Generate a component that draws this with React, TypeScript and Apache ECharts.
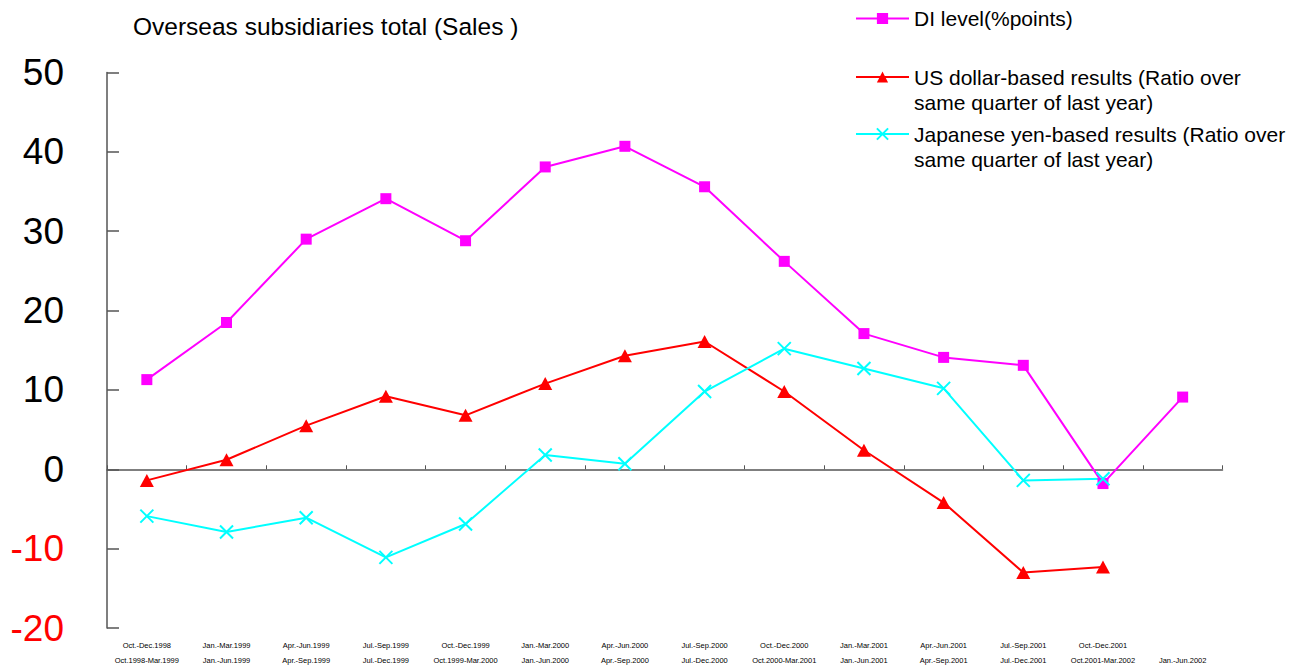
import React, { useEffect, useRef } from 'react';
import * as echarts from 'echarts';

const labelsTop = [
  'Oct.-Dec.1998', 'Jan.-Mar.1999', 'Apr.-Jun.1999', 'Jul.-Sep.1999', 'Oct.-Dec.1999',
  'Jan.-Mar.2000', 'Apr.-Jun.2000', 'Jul.-Sep.2000', 'Oct.-Dec.2000', 'Jan.-Mar.2001',
  'Apr.-Jun.2001', 'Jul.-Sep.2001', 'Oct.-Dec.2001', '',
];
const labelsBottom = [
  'Oct.1998-Mar.1999', 'Jan.-Jun.1999', 'Apr.-Sep.1999', 'Jul.-Dec.1999', 'Oct.1999-Mar.2000',
  'Jan.-Jun.2000', 'Apr.-Sep.2000', 'Jul.-Dec.2000', 'Oct.2000-Mar.2001', 'Jan.-Jun.2001',
  'Apr.-Sep.2001', 'Jul.-Dec.2001', 'Oct.2001-Mar.2002', 'Jan.-Jun.2002',
];

const seriesNames = [
  'DI level(%points)',
  'US dollar-based results (Ratio over\nsame quarter of last year)',
  'Japanese yen-based results (Ratio over\nsame quarter of last year)',
];

const diLevel = [11.3, 18.5, 29.0, 34.1, 28.8, 38.1, 40.7, 35.6, 26.2, 17.1, 14.1, 13.1, -1.8, 9.1];
const usDollar = [-1.4, 1.2, 5.5, 9.2, 6.8, 10.8, 14.3, 16.1, 9.8, 2.4, -4.2, -13.0, -12.3, null];
const japaneseYen = [-5.9, -7.9, -6.1, -11.1, -6.9, 1.8, 0.7, 9.8, 15.2, 12.7, 10.2, -1.4, -1.2, null];

const yTicks = { min: -20, max: 50, interval: 10 };
const titleText = 'Overseas subsidiaries total (Sales )';

const FONT = '"Liberation Sans", Arial, sans-serif';

export default function App() {
  const ref = useRef<HTMLDivElement>(null);

  useEffect(() => {
    document.body.style.margin = '0';
    if (!ref.current) return;
    const chart = echarts.init(ref.current, null, { renderer: 'svg' });

    const legendBase = {
      orient: 'vertical',
      itemWidth: 53,
      itemHeight: 14,
      padding: 0,
      selectedMode: false,
      textStyle: { fontSize: 21, color: '#000', fontFamily: FONT, lineHeight: 25 },
    };

    chart.setOption({
      animation: false,
      backgroundColor: '#fff',
      title: {
        text: titleText,
        left: 133,
        top: 14,
        padding: 0,
        textStyle: { fontSize: 24.5, fontWeight: 'normal', color: '#000', fontFamily: FONT },
      },
      legend: [
        { ...legendBase, data: [seriesNames[0]], left: 855, top: 6 },
        { ...legendBase, data: [seriesNames[1]], left: 855, top: 39.5, formatter: '\n{name}' },
        { ...legendBase, data: [seriesNames[2]], left: 855, top: 96.5, formatter: '\n{name}' },
      ],
      grid: {
        left: 107,
        right: 74.5,
        top: 72.5,
        bottom: 39,
        containLabel: false,
        outerBoundsMode: 'none',
      },
      xAxis: [
        {
          type: 'category',
          data: labelsBottom,
          boundaryGap: true,
          position: 'bottom',
          axisLine: { onZero: true, lineStyle: { color: '#555', width: 1.5 } },
          axisTick: { show: true, inside: true, length: 4, interval: 0, lineStyle: { color: '#555' } },
          axisLabel: { show: false },
          splitLine: { show: false },
        },
        {
          type: 'category',
          data: labelsBottom,
          boundaryGap: true,
          position: 'bottom',
          axisLine: { show: false, onZero: false },
          axisTick: { show: false },
          splitLine: { show: false },
          axisLabel: {
            show: true,
            interval: 0,
            margin: 9.5,
            fontSize: 7.5,
            lineHeight: 15,
            color: '#000',
            fontFamily: FONT,
            formatter: (_v: string, i: number) => `${labelsTop[i]}\n${labelsBottom[i]}`,
          },
        },
      ],
      yAxis: {
        type: 'value',
        min: yTicks.min,
        max: yTicks.max,
        interval: yTicks.interval,
        axisLine: { show: true, lineStyle: { color: '#555', width: 1.5 } },
        axisTick: { show: true, inside: true, length: 12, lineStyle: { color: '#555', width: 1.5 } },
        splitLine: { show: false },
        axisLabel: {
          margin: 43,
          fontSize: 37,
          fontFamily: FONT,
          color: (v: string | number) => (Number(v) < 0 ? '#FF0000' : '#000'),
        },
      },
      series: [
        {
          name: seriesNames[0],
          type: 'line',
          data: diLevel,
          symbol: 'rect',
          symbolSize: 11,
          lineStyle: { color: '#FF00FF', width: 2 },
          itemStyle: { color: '#FF00FF' },
        },
        {
          name: seriesNames[1],
          type: 'line',
          data: usDollar,
          symbol: 'triangle',
          symbolSize: [14, 13],
          lineStyle: { color: '#FF0000', width: 2 },
          itemStyle: { color: '#FF0000' },
        },
        {
          name: seriesNames[2],
          type: 'line',
          data: japaneseYen,
          symbol: 'path://M0 0L10 10M10 0L0 10',
          symbolSize: 13,
          lineStyle: { color: '#00FFFF', width: 2 },
          itemStyle: { color: '#00FFFF', borderColor: '#00FFFF', borderWidth: 2 },
        },
      ],
    });

    return () => chart.dispose();
  }, []);

  return <div ref={ref} style={{ width: 1297, height: 667 }} />;
}
